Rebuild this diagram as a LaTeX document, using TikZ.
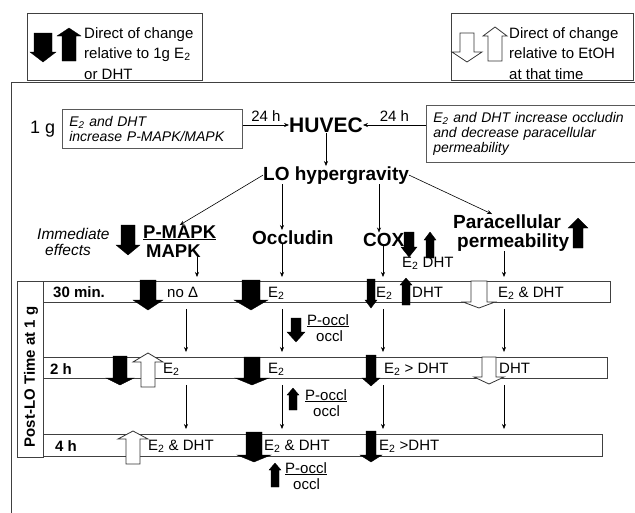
\documentclass[tikz,border=0pt]{standalone}
\usepackage{fontspec}
\setmainfont{Liberation Sans}
\usetikzlibrary{arrows.meta}

% block arrow: [style]{x}{tail y}{head base y}{tip y}{half body}{half head}
\newcommand{\blockarr}[7][blk]{%
  \draw[#1] (#2-#6,#3) -- (#2+#6,#3) -- (#2+#6,#4) -- (#2+#7,#4) -- (#2,#5)
    -- (#2-#7,#4) -- (#2-#6,#4) -- cycle;}

\begin{document}
\begin{tikzpicture}[
        x=1pt, y=-1pt,
        >={Stealth[length=5pt,width=4pt]},
        txt/.style={font=\fontsize{15}{20.5}\selectfont, inner sep=0pt, anchor=base west},
        lbl/.style={font=\bfseries\fontsize{15}{18}\selectfont, inner sep=0pt, anchor=base west},
        hdr/.style={font=\bfseries\fontsize{19}{22}\selectfont, inner sep=0pt, anchor=base west},
        note/.style={draw=black!65, line width=0.7pt, font=\itshape\fontsize{14}{15}\selectfont,
            align=left, anchor=north west, inner xsep=7pt, inner ysep=0pt},
        frame/.style={draw=black!75, line width=1pt},
        bar/.style={draw=black!75, line width=0.8pt, fill=white, inner sep=0pt, anchor=north west},
        blk/.style={fill=black, draw=black, line width=0.3pt},
        hol/.style={fill=white, draw=black!80, line width=0.8pt},
        link/.style={->, line width=0.6pt}
    ]
    \useasboundingbox[fill=white] (0,0) rectangle (635,512);

    % keys
    \draw[frame] (27,13) rectangle (202,80);
    \draw[frame] (451,13) rectangle (633,80);
    \blockarr{43}{33}{52}{62}{9}{13}
    \blockarr{69}{61}{36}{28}{7}{12}
    \blockarr[hol]{467}{33}{52}{62}{7}{15}
    \blockarr[hol]{495}{61}{36}{27}{7}{12}
    \node[txt, anchor=north west, align=left] (key1) at (84,27)
        {Direct of change\\relative to 1g E\textsubscript{2}\\or DHT};
    \node[txt, anchor=north west, align=left] (key2) at (509,27)
        {Direct of change\\relative to EtOH\\at that time};

    \draw[frame] (11,520) -- (11,82) -- (640,82);

    % top part
    \node[font=\fontsize{18}{20}\selectfont, inner sep=0pt, anchor=base west] (oneg) at (30,133) {1 g};
    \node[note, text width=166pt, minimum height=39pt] (nl) at (62,109)
        {E\textsubscript{2} and DHT\\increase P-MAPK/MAPK};
    \node[note, text width=200pt, minimum height=57pt] (nr) at (426,105)
        {E\textsubscript{2} and DHT increase occludin\\and decrease paracellular\\permeability};
    \node[font=\bfseries\fontsize{21}{24}\selectfont, inner sep=0pt] (hub) at (326,125) {HUVEC};
    \node[hdr] (lo) at (263,180) {LO hypergravity};

    \draw[link] (nl.east |- hub.west) -- (hub.west)
        node[midway, above=3pt, font=\fontsize{15}{18}\selectfont, inner sep=0pt] (t24a) {24 h};
    \draw[link] (nr.west |- hub.east) -- (hub.east)
        node[midway, above=3pt, font=\fontsize{15}{18}\selectfont, inner sep=0pt] (t24b) {24 h};

    \node[font=\itshape\fontsize{15.5}{18}\selectfont, inner sep=0pt, anchor=base west] (imm) at (37,239) {Immediate};
    \node[font=\itshape\fontsize{15.5}{18}\selectfont, inner sep=0pt, anchor=base west] (eff) at (45,255) {effects};
    \blockarr{128}{225}{245}{255}{7}{12}
    \node[font=\bfseries\fontsize{18.5}{22}\selectfont, inner sep=0pt, anchor=base west] (pmapk) at (143,238) {\underline{P-MAPK}};
    \node[font=\bfseries\fontsize{18.5}{22}\selectfont, inner sep=0pt, anchor=base west] (mapk) at (146,257) {MAPK};
    \node[hdr] (occ) at (252,244) {Occludin};
    \node[hdr] (cox) at (363,246) {COX};
    \blockarr{409}{232}{247}{257}{5}{8}
    \blockarr{430}{258}{240}{232}{4}{6}
    \node[txt] (coxlab) at (402,267) {E\textsubscript{2} DHT};
    \node[hdr] (para) at (453,228) {Paracellular};
    \node[hdr] (perm) at (457,247) {permeability};
    \blockarr{578}{248}{228}{218}{5}{10}

    \coordinate (cP) at (186,0);
    \coordinate (cPt) at (197,0);
    \coordinate (cO) at (282,0);
    \coordinate (cC) at (383,0);
    \coordinate (cCt) at (379,0);
    \coordinate (cR) at (504,0);

    \draw[link] (hub.south) -- (hub.south |- lo.north);
    \path[link]
        (lo.west) edge (pmapk.north)
        (lo.south -| cO) edge (occ.north -| cO)
        (lo.south -| cCt) edge (cox.north -| cCt)
        (lo.east) edge ([xshift=-15pt]para.north);

    % time rows
    \node[bar, minimum width=26pt, minimum height=176pt] (tcol) at (17,281) {};
    \node[bar, minimum width=567pt, minimum height=21pt] (r1) at (43,281) {};
    \node[bar, minimum width=564pt, minimum height=21pt] (r2) at (43,357) {};
    \node[bar, minimum width=559pt, minimum height=22pt] (r3) at (43,434) {};
    \node[lbl, anchor=center, rotate=90] (tlab) at (31,377) {Post-LO Time at 1 g};

    \path[link, shorten >=4pt]
        (mapk.south -| cPt) edge (r1.north -| cPt)
        (occ.south -| cO) edge (r1.north -| cO)
        (cox.south -| cC) edge (r1.north -| cC)
        (perm.south -| cR) edge (r1.north -| cR);
    \path[link, shorten <=6pt, shorten >=5pt]
        (r1.south -| cP) edge (r2.north -| cP)
        (r1.south -| cO) edge (r2.north -| cO)
        (r1.south -| cC) edge (r2.north -| cC)
        (r1.south -| cR) edge (r2.north -| cR)
        (r2.south -| cP) edge (r3.north -| cP)
        (r2.south -| cO) edge (r3.north -| cO)
        (r2.south -| cC) edge (r3.north -| cC)
        (r2.south -| cR) edge (r3.north -| cR);

    % 30 min.
    \blockarr{148}{280}{300}{310}{8}{15}
    \blockarr{251}{280}{300}{310}{9}{17}
    \blockarr{371}{279}{300}{308}{4}{6}
    \blockarr{406}{305}{285}{278}{4}{6}
    \blockarr[hol]{479}{281}{302}{308}{8}{16}
    \node[lbl] (t30) at (53,297) {30 min.};
    \node[txt] (a1) at (167,297) {no Δ};
    \node[txt] (b1) at (268,297) {E\textsubscript{2}};
    \node[txt] (c1) at (376,297) {E\textsubscript{2}};
    \node[txt] (c1b) at (412,297) {DHT};
    \node[txt] (d1) at (498,297) {E\textsubscript{2} \& DHT};

    \blockarr{296}{318}{332}{342}{5}{9}
    \node[txt] (po1) at (307,325) {\underline{P-occl}};
    \node[txt] (oc1) at (316,341) {occl};

    % 2 h
    \blockarr{120}{356}{378}{385}{7}{14}
    \blockarr[hol]{148}{387}{362}{353}{7}{15}
    \blockarr{252}{357}{378}{385}{8}{17}
    \blockarr{371}{355}{378}{386}{5}{9}
    \blockarr[hol]{489}{357}{377}{384}{7}{15}
    \node[lbl] (t2) at (50,374) {2 h};
    \node[txt] (a2) at (163,373) {E\textsubscript{2}};
    \node[txt] (b2) at (268,373) {E\textsubscript{2}};
    \node[txt] (c2) at (384,373) {E\textsubscript{2} > DHT};
    \node[txt] (d2) at (499,373) {DHT};

    \blockarr{293}{410}{395}{388}{4}{6}
    \node[txt] (po2) at (305,400) {\underline{P-occl}};
    \node[txt] (oc2) at (313,416) {occl};

    % 4 h
    \blockarr[hol]{133}{464}{439}{431}{7}{15}
    \blockarr{254}{432}{455}{462}{8}{17}
    \blockarr{371}{431}{455}{462}{5}{11}
    \node[lbl] (t4) at (55,451) {4 h};
    \node[txt] (a3) at (148,450) {E\textsubscript{2} \& DHT};
    \node[txt] (b3) at (264,450) {E\textsubscript{2} \& DHT};
    \node[txt] (c3) at (379,450) {E\textsubscript{2} >DHT};

    \blockarr{275}{487}{470}{463}{4}{6}
    \node[txt] (po3) at (285,473) {\underline{P-occl}};
    \node[txt] (oc3) at (293,489) {occl};
\end{tikzpicture}
\end{document}
